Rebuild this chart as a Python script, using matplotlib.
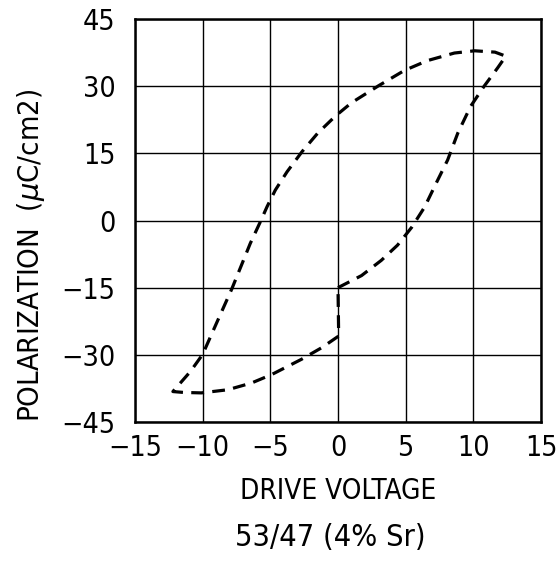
import matplotlib.pyplot as plt
from matplotlib import font_manager
import numpy as np

# hysteresis loop, starting at the step at V=0
voltage = [0.0, 1.74, 3.2, 4.4, 5.45, 6.4, 7.2, 8.1, 8.85, 9.8, 10.8, 11.8, 12.4,
           11.6, 10.1, 8.6, 6.6, 4.9, 3.0, 1.0, -0.2, -1.5, -2.65, -3.76, -4.63, -5.24,
           -5.74, -6.48, -7.15, -7.85, -8.9, -10.0, -10.9, -12.2,
           -11.4, -10.1, -8.15, -6.4, -4.9, -2.7, -1.2, 0.05, 0.0]
polarization = [-15.0, -12.3, -8.9, -5.5, -1.5, 3.0, 8.0, 13.5, 19.5, 25.5, 30.0, 34.1, 36.7,
                37.6, 37.9, 37.4, 35.7, 33.5, 30.1, 26.3, 23.3, 19.5, 15.4, 10.9, 6.8, 3.1,
                -0.3, -5.1, -10.1, -15.3, -22.4, -29.9, -33.7, -38.2,
                -38.4, -38.5, -37.8, -36.3, -34.4, -31.0, -28.4, -25.8, -15.0]

x_ticks = [-15, -10, -5, 0, 5, 10, 15]
y_ticks = [-45, -30, -15, 0, 15, 30, 45]

# look for a narrow sans font; fall back to Liberation Sans
narrow = None
for f in font_manager.fontManager.ttflist:
    if f.style != 'normal' or f.weight not in (400, 'normal', 'regular', 'book'):
        continue
    if 'Narrow' in f.name or str(f.stretch) == 'condensed' or 'Condensed' in f.name:
        if narrow is None or 'Liberation' in f.name:
            narrow = f
if narrow is not None:
    fp = font_manager.FontProperties(fname=narrow.fname)
    tick_size, xlab_size, ylab_size, title_size = 20.5, 20, 21, 22
else:
    fp = font_manager.FontProperties(family='Liberation Sans')
    tick_size, xlab_size, ylab_size, title_size = 20, 17.5, 18, 19

fig = plt.figure(figsize=(5.6, 5.63), dpi=100)
ax = fig.add_axes([135 / 560, 1 - 422 / 563, 406 / 560, 403 / 563])

ax.plot(voltage, polarization, color='black', linewidth=2.3, linestyle=(0, (4, 2.6)))

ax.set_xlim(-15, 15)
ax.set_ylim(-45, 45)
ax.set_xticks(x_ticks)
ax.set_yticks(y_ticks)
ax.set_xticklabels([str(t).replace('-', '\u2212') for t in x_ticks], fontproperties=fp, fontsize=tick_size)
ax.set_yticklabels([str(t).replace('-', '\u2212') for t in y_ticks], fontproperties=fp, fontsize=tick_size)
ax.tick_params(axis='x', length=0, pad=9)
ax.tick_params(axis='y', length=0, pad=14)
ax.grid(True, color='black', linewidth=1.0)
for s in ax.spines.values():
    s.set_linewidth(1.8)

ax.set_xlabel('DRIVE VOLTAGE', fontproperties=fp, fontsize=xlab_size, va='center')
ax.xaxis.set_label_coords(0.5, (422 - 491) / 403)
ax.set_ylabel(r'POLARIZATION  ($\mu$C/cm2)', fontproperties=fp, fontsize=ylab_size, va='center')
ax.yaxis.set_label_coords((31 - 135) / 406, (422 - 255) / 403)
fig.text(330 / 560, 1 - 538 / 563, '53/47 (4% Sr)', fontproperties=fp, fontsize=title_size,
         ha='center', va='center')

plt.savefig('out.png', dpi=100)
